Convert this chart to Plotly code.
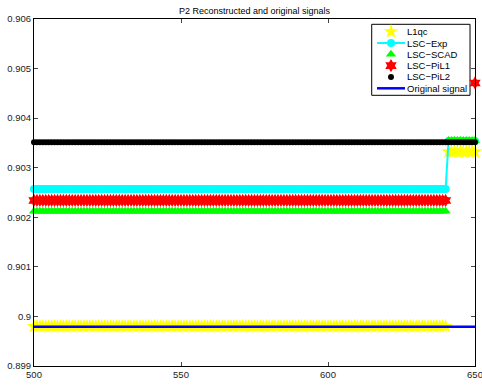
import plotly.graph_objects as go

# ---------------- data ----------------
x = list(range(500, 651))
n_before = 141  # x = 500..640
n_after = 10    # x = 641..650

l1qc = [0.89980] * n_before + [0.90332] * n_after
lsc_exp = [0.90257] * n_before + [0.90354] * n_after
lsc_scad = [0.90212] * n_before + [0.90355] * n_after
lsc_pil1 = [0.90234] * n_before + [None] * (n_after - 1) + [0.90471]
lsc_pil2 = [0.903515] * len(x)
original = [0.89979] * len(x)

series_names = ["L1qc", "LSC\u2212Exp", "LSC\u2212SCAD", "LSC\u2212PiL1", "LSC\u2212PiL2", "Original signal"]
y_ticks = [0.899, 0.900, 0.901, 0.902, 0.903, 0.904, 0.905, 0.906]
y_tick_text = ["0.899", "0.9", "0.901", "0.902", "0.903", "0.904", "0.905", "0.906"]
x_ticks = [500, 550, 600, 650]

# ---------------- styles ----------------
styles = [
    dict(mode="markers", marker=dict(symbol="star", size=11, color="#ffff00", line=dict(width=0))),
    dict(mode="lines+markers", line=dict(color="#00ffff", width=2),
         marker=dict(symbol="circle", size=8, color="#00ffff", line=dict(width=0))),
    dict(mode="markers", marker=dict(symbol="triangle-up", size=9, color="#00ff00", line=dict(width=0))),
    dict(mode="markers", marker=dict(symbol="hexagram", size=10, color="#ff0000", line=dict(width=0))),
    dict(mode="markers", marker=dict(symbol="circle", size=6, color="#000000", line=dict(width=0))),
    dict(mode="lines", line=dict(color="#0000ff", width=2.5)),
]

fig = go.Figure()
for name, ys, st in zip(series_names, [l1qc, lsc_exp, lsc_scad, lsc_pil1, lsc_pil2, original], styles):
    fig.add_trace(go.Scatter(x=x, y=ys, name=name, cliponaxis=False, showlegend=False,
                             hoverinfo="skip", **st))

# ---------------- custom compact legend (overlay axes spanning the plot area 0..1) ----------------
lg_x0, lg_x1, lg_y0, lg_y1 = 0.7658, 0.9887, 0.7801, 0.9847
row_y = [0.9634, 0.9308, 0.8983, 0.8657, 0.8329, 0.8003]
sym_x, seg_x0, seg_x1, txt_x = 0.8095, 0.7778, 0.8413, 0.8425

for i, (name, st) in enumerate(zip(series_names, styles)):
    ry = row_y[i]
    if "lines" in st["mode"]:
        fig.add_trace(go.Scatter(x=[seg_x0, seg_x1], y=[ry, ry], mode="lines", line=st["line"],
                                 xaxis="x2", yaxis="y2", showlegend=False, hoverinfo="skip",
                                 cliponaxis=False))
    if "markers" in st["mode"]:
        fig.add_trace(go.Scatter(x=[sym_x], y=[ry], mode="markers", marker=st["marker"],
                                 xaxis="x2", yaxis="y2", showlegend=False, hoverinfo="skip",
                                 cliponaxis=False))
    fig.add_annotation(x=txt_x, y=ry, xref="paper", yref="paper", text=name, showarrow=False,
                       xanchor="left", yanchor="middle", borderpad=0,
                       font=dict(family="Liberation Sans", size=9.5, color="#000"))

fig.add_shape(type="rect", xref="paper", yref="paper", x0=lg_x0, x1=lg_x1, y0=lg_y0, y1=lg_y1,
              line=dict(color="black", width=1), fillcolor="white", layer="below")

fig.update_layout(
    width=482, height=385,
    margin=dict(l=34, r=7, t=19, b=19),
    paper_bgcolor="white", plot_bgcolor="white",
    font=dict(family="Liberation Sans", size=9.5, color="#222"),
    title=dict(text="P2 Reconstructed and original signals", x=0.5, xanchor="center",
               xref="paper", y=0.98, yanchor="top", font=dict(size=9, color="#000")),
    showlegend=False,
    hovermode=False,
    xaxis=dict(range=[500, 650], tickvals=x_ticks, ticks="inside", ticklen=4,
               showline=True, linecolor="black", linewidth=1, mirror="ticks", automargin=False,
               ticklabeloverflow="allow",
               showgrid=False, zeroline=False, tickfont=dict(size=9.5, color="#222")),
    yaxis=dict(range=[0.899, 0.906], tickvals=y_ticks, ticktext=y_tick_text,
               ticks="inside", ticklen=4, automargin=False, ticklabeloverflow="allow",
               showline=True, linecolor="black", linewidth=1, mirror="ticks",
               showgrid=False, zeroline=False, tickfont=dict(size=9.5, color="#222")),
    xaxis2=dict(range=[0, 1], overlaying="x", visible=False, fixedrange=True, automargin=False),
    yaxis2=dict(range=[0, 1], overlaying="y", visible=False, fixedrange=True, automargin=False),
)

fig.write_html("out.html", config={"displayModeBar": False},
               post_script="document.body.style.margin='0';")
